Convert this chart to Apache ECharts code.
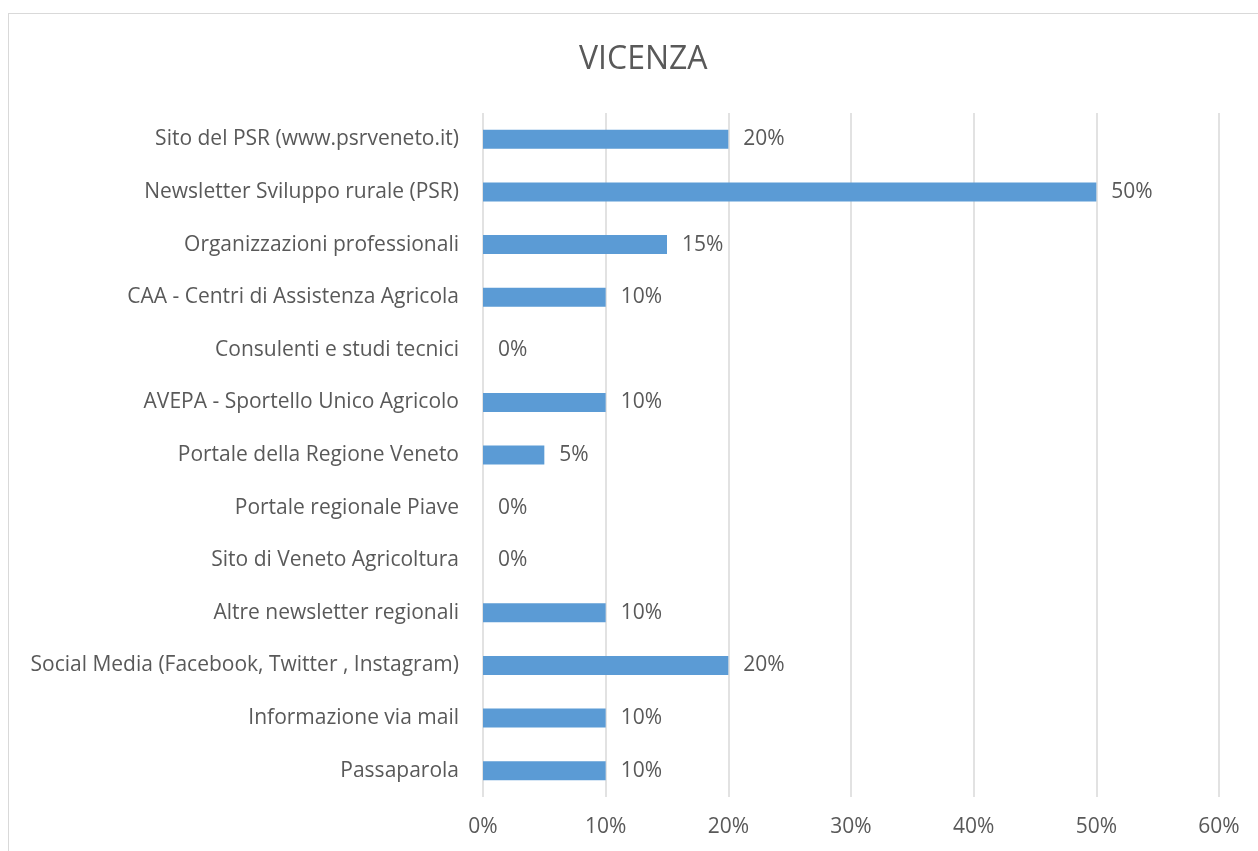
<!DOCTYPE html>
<html>
<head>
<meta charset="utf-8">
<script src="https://cdn.jsdelivr.net/npm/echarts@6/dist/echarts.min.js"></script>
<style>
  html, body { margin: 0; padding: 0; background: #fff; }
  #frame {
    position: absolute; left: 8px; top: 13px;
    width: 1300px; height: 900px;
    border: 1px solid #d9d9d9;
  }
  #chart { position: absolute; left: 0; top: 0; width: 1258px; height: 851px; }
</style>
</head>
<body>
<div id="frame"></div>
<div id="chart"></div>
<script>
var categories = [
  "Sito del PSR (www.psrveneto.it)",
  "Newsletter Sviluppo rurale (PSR)",
  "Organizzazioni professionali",
  "CAA - Centri di Assistenza Agricola",
  "Consulenti e studi tecnici",
  "AVEPA - Sportello Unico Agricolo",
  "Portale della Regione Veneto",
  "Portale regionale Piave",
  "Sito di Veneto Agricoltura",
  "Altre newsletter regionali",
  "Social Media (Facebook, Twitter , Instagram)",
  "Informazione via mail",
  "Passaparola"
];
var values = [20, 50, 15, 10, 0, 10, 5, 0, 0, 10, 20, 10, 10];

var font = "'Open Sans', sans-serif";
var grey = "#595959";

var chart = echarts.init(document.getElementById("chart"));
chart.setOption({
  backgroundColor: "transparent",
  animation: false,
  title: {
    text: "VICENZA",
    left: 574,
    top: 39,
    textStyle: { fontFamily: font, fontSize: 32, fontWeight: "normal", color: grey }
  },
  grid: { left: 483, right: 39, top: 113, bottom: 54, containLabel: false },
  xAxis: {
    type: "value",
    min: 0,
    max: 60,
    interval: 10,
    axisLine: { show: false },
    axisTick: { show: false },
    splitLine: { lineStyle: { color: "#d9d9d9", width: 1.5 } },
    axisLabel: {
      formatter: "{value}%",
      margin: 20,
      fontFamily: font,
      fontSize: 21,
      color: grey
    }
  },
  yAxis: {
    type: "category",
    inverse: true,
    data: categories,
    axisLine: { show: false },
    axisTick: { show: false },
    axisLabel: { margin: 24, fontFamily: font, fontSize: 21, color: grey }
  },
  series: [{
    type: "bar",
    data: values,
    barWidth: 19,
    itemStyle: { color: "#5b9bd5" },
    label: {
      show: true,
      position: "right",
      distance: 15,
      formatter: "{c}%",
      fontFamily: font,
      fontSize: 21,
      color: grey
    }
  }]
});
</script>
</body>
</html>
